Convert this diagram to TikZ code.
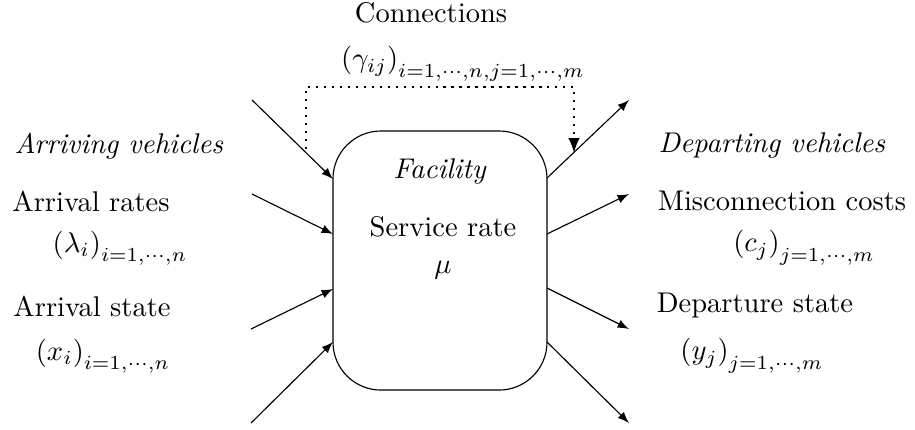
\documentclass[tikz,border=0pt]{standalone}
\usetikzlibrary{arrows}

\begin{document}
\begin{tikzpicture}[x=0.3509pt, y=-0.3509pt,
      box/.style={rectangle, draw, rounded corners=16.8pt, minimum width=75.1pt, minimum height=90.9pt},
      flow/.style={-latex},
      link/.style={-latex, line width=0.8pt, dotted}]
      \useasboundingbox (0,0) rectangle (915,429);
      \node[box](facility) at (440,260.5){};
      \node(fac) at (440,172){\textit{Facility}};
      \node(rate) at (443,227){Service rate};
      \node(mu) at (443,270){$\mu$};
      \node(conn) at (431,13){Connections};
      \node(gamma) at (463,64){$\left(\gamma_{ij}\right)_{i=1,\cdots,n,j=1,\cdots,m}$};
      \node(arriving) at (119,146){\textit{Arriving vehicles}};
      \node(arate) at (91,201){Arrival rates};
      \node(lambda) at (120,248){$\left(\lambda_i\right)_{i=1,\cdots,n}$};
      \node(astate) at (92,306){Arrival state};
      \node(x) at (103,356){$\left(x_i\right)_{i=1,\cdots,n}$};
      \node(departing) at (772,146){\textit{Departing vehicles}};
      \node(cost) at (782,201){Misconnection costs};
      \node(c) at (804,248){$\left(c_j\right)_{j=1,\cdots,m}$};
      \node(dstate) at (755,306){Departure state};
      \node(y) at (752,356){$\left(y_j\right)_{j=1,\cdots,m}$};
      % arrivals
      \coordinate(a1) at (252,100);
      \coordinate(a2) at (252,194);
      \coordinate(a3) at (251,329);
      \coordinate(a4) at (251,423);
      \coordinate(l1) at (333,179);
      \coordinate(l2) at (333,234);
      \coordinate(l3) at (333,289);
      \coordinate(l4) at (333,342);
      % departures
      \coordinate(r1) at (547,178);
      \coordinate(r2) at (547,234);
      \coordinate(r3) at (547,288);
      \coordinate(r4) at (547,342);
      \coordinate(d1) at (629,100);
      \coordinate(d2) at (629,194);
      \coordinate(d3) at (629,329);
      \coordinate(d4) at (629,423);
      % connections
      \coordinate(c0) at (306,149);
      \coordinate(c1) at (306,87);
      \coordinate(c2) at (574,87);
      \coordinate(c3) at (574,153);
      \draw[flow] (a1) -- (l1);
      \draw[flow] (a2) -- (l2);
      \draw[flow] (a3) -- (l3);
      \draw[flow] (a4) -- (l4);
      \draw[flow] (r1) -- (d1);
      \draw[flow] (r2) -- (d2);
      \draw[flow] (r3) -- (d3);
      \draw[flow] (r4) -- (d4);
      \draw[link] (c0) -- (c1) -- (c2) -- (c3);
    \end{tikzpicture}
\end{document}
